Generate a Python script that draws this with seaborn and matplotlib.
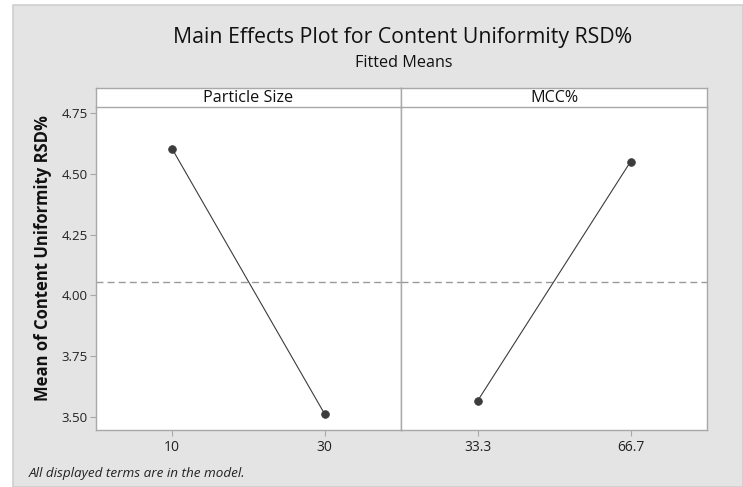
import matplotlib
matplotlib.use("Agg")
import matplotlib.pyplot as plt
from matplotlib.patches import Rectangle
import seaborn as sns
import pandas as pd

# ---- data ----
factors = ["Particle Size", "MCC%"]
particle_levels = ["10", "30"]
particle_means = [4.602, 3.512]
mcc_levels = ["33.3", "66.7"]
mcc_means = [3.566, 4.550]
y_ticks = [3.50, 3.75, 4.00, 4.25, 4.50, 4.75]
grand_mean = 4.0575

df = pd.DataFrame({
    "factor": [factors[0]] * 2 + [factors[1]] * 2,
    "level": particle_levels + mcc_levels,
    "mean": particle_means + mcc_means,
})

sns.set_style("white")
FONT = ["Open Sans", "DejaVu Sans"]
plt.rcParams["font.family"] = FONT

W, H = 743, 487
fig = plt.figure(figsize=(W / 100, H / 100), dpi=100, facecolor="white")

def fx(px):
    return px / W

def fy(py):
    return 1 - py / H

# gray background panel
fig.patches.append(Rectangle((fx(13), 0), 1 - fx(13), fy(5), transform=fig.transFigure,
                             facecolor="#e4e4e4", edgecolor="#cfcfcf", linewidth=1.2, zorder=-10))

top, bottom = 107, 430
panels = [(96, 401), (401, 707)]
spine_col = "#a8a8a8"
mark_col = "#3c3c3c"

axes = []
for i, (fac, (x0, x1)) in enumerate(zip(factors, panels)):
    ax = fig.add_axes([fx(x0), fy(bottom), fx(x1) - fx(x0), fy(top) - fy(bottom)])
    sub = df[df["factor"] == fac]
    sns.pointplot(data=sub, x="level", y="mean", ax=ax, color=mark_col,
                  markers="o", markersize=5.5, linewidth=0.8, errorbar=None)
    ax.axhline(grand_mean, color="#9a9a9a", linestyle=(0, (5, 3)), linewidth=1.0, zorder=0)
    ax.set_xlim(-0.5, 1.5)
    ax.set_ylim(3.447, 4.775)
    ax.set_xlabel("")
    ax.set_ylabel("")
    ax.set_facecolor("white")
    for s in ax.spines.values():
        s.set_color(spine_col)
        s.set_linewidth(1.0)
    ax.spines["top"].set_visible(False)
    ax.tick_params(axis="x", which="both", bottom=True, length=4, color=spine_col,
                   labelsize=10, labelcolor="#222222", pad=3)
    if i == 0:
        ax.set_yticks(y_ticks)
        ax.set_yticklabels([f"{v:.2f}" for v in y_ticks])
        ax.tick_params(axis="y", left=True, length=4, color=spine_col,
                       labelsize=9.5, labelcolor="#222222", pad=2)
    else:
        ax.set_yticks(y_ticks)
        ax.tick_params(axis="y", left=False, labelleft=False)
    # strip
    sax = fig.add_axes([fx(x0), fy(top), fx(x1) - fx(x0), fy(88) - fy(top)])
    sax.set_facecolor("white")
    sax.set_xticks([])
    sax.set_yticks([])
    for s in sax.spines.values():
        s.set_color(spine_col)
        s.set_linewidth(1.0)
    sax.text(0.5, 0.45, fac, ha="center", va="center", fontsize=11.6, color="#111111",
             transform=sax.transAxes)
    axes.append(ax)

fig.text(fx(403), fy(37), "Main Effects Plot for Content Uniformity RSD%", ha="center",
         va="center", fontsize=15.3, color="#111111")
fig.text(fx(404), fy(63), "Fitted Means", ha="center", va="center", fontsize=11.6,
         color="#111111")
fig.text(fx(43), fy(258), "Mean of Content Uniformity RSD%", rotation=90, ha="center",
         va="center", fontsize=12, fontweight="bold", color="#111111")
fig.text(fx(29), fy(474), "All displayed terms are in the model.", ha="left", va="center",
         fontsize=9.7, style="italic", color="#222222")

fig.savefig("out.png", dpi=100, facecolor="white")
